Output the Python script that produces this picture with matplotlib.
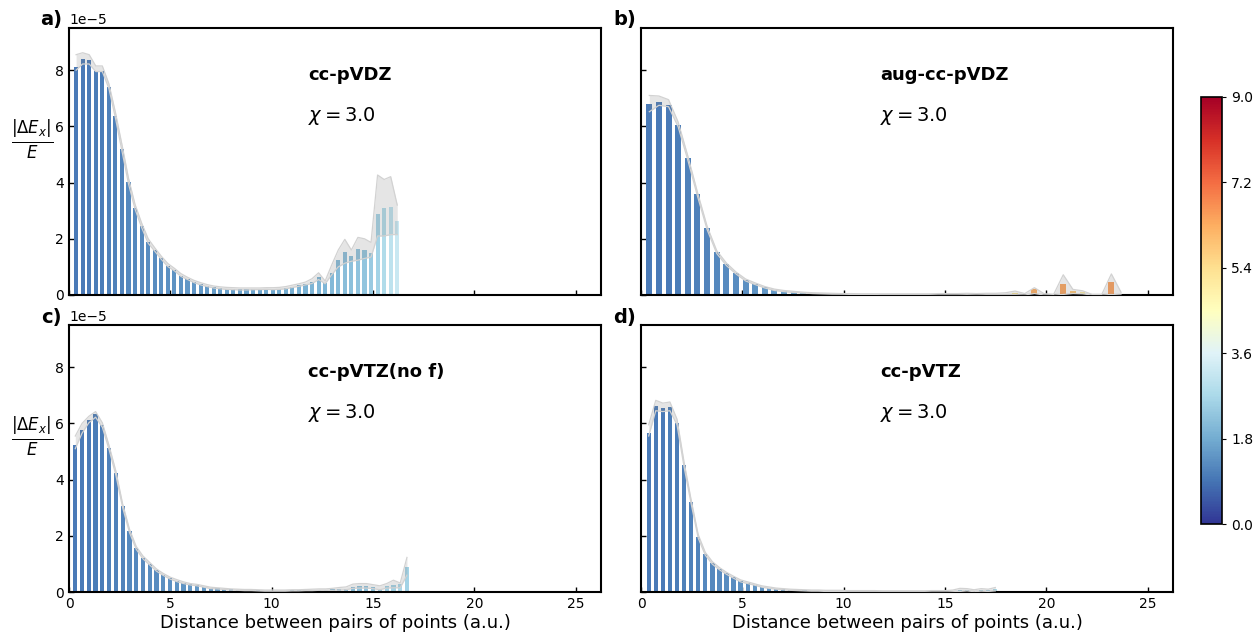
import numpy as np
import matplotlib
matplotlib.use("Agg")
import matplotlib.pyplot as plt
from matplotlib import cm, colors

# ---------------- data (values in units of 1e-5) ----------------
panel_labels = ["a)", "b)", "c)", "d)"]
basis_names = ["cc-pVDZ", "aug-cc-pVDZ", "cc-pVTZ(no f)", "cc-pVTZ"]
chi_text = r"$\chi = 3.0$"

# bin centres: first centre and spacing (a.u.) for each panel, 50 bins each
bin_first = [0.35, 0.41, 0.31, 0.38]
bin_step = [0.3234, 0.4750, 0.3340, 0.3490]
n_bins = 50

val_a = [8.12, 8.40, 8.37, 7.98, 7.98, 7.40, 6.38, 5.20, 4.02, 3.10,
         2.45, 1.88, 1.60, 1.30, 1.04, 0.89, 0.69, 0.58, 0.47, 0.39,
         0.32, 0.27, 0.25, 0.22, 0.21, 0.20, 0.20, 0.21, 0.21, 0.22,
         0.21, 0.22, 0.25, 0.30, 0.34, 0.39, 0.45, 0.65, 0.44, 0.79,
         1.24, 1.52, 1.39, 1.64, 1.60, 1.49, 2.88, 3.10, 3.14, 2.64]
hi_a = [8.55, 8.62, 8.55, 8.15, 8.15, 7.52, 6.50, 5.35, 4.15, 3.22,
        2.56, 2.00, 1.68, 1.38, 1.12, 0.95, 0.76, 0.63, 0.52, 0.44,
        0.37, 0.32, 0.29, 0.27, 0.26, 0.25, 0.25, 0.25, 0.25, 0.26,
        0.26, 0.27, 0.30, 0.35, 0.40, 0.46, 0.58, 0.79, 0.50, 1.07,
        1.60, 1.98, 1.60, 2.05, 2.00, 1.87, 4.27, 4.11, 4.21, 3.20]
lo_a = [8.00, 8.22, 8.22, 7.95, 7.95, 7.35, 6.30, 5.12, 3.95, 3.05,
        2.40, 1.84, 1.56, 1.27, 1.01, 0.86, 0.66, 0.55, 0.44, 0.36,
        0.30, 0.25, 0.22, 0.20, 0.19, 0.18, 0.18, 0.19, 0.19, 0.20,
        0.19, 0.20, 0.22, 0.27, 0.31, 0.36, 0.41, 0.55, 0.40, 0.72,
        1.00, 1.13, 1.20, 1.24, 1.30, 1.35, 2.10, 2.10, 2.15, 2.15]
col_a = [1.00, 1.00, 1.00, 1.05, 1.05, 1.10, 1.10, 1.15, 1.20, 1.20,
         1.25, 1.30, 1.30, 1.35, 1.35, 1.40, 1.40, 1.45, 1.45, 1.50,
         1.50, 1.55, 1.55, 1.60, 1.60, 1.65, 1.65, 1.70, 1.70, 1.75,
         1.75, 1.80, 1.80, 1.85, 1.90, 1.90, 1.95, 2.00, 2.00, 2.05,
         2.10, 2.15, 2.20, 2.25, 2.30, 2.40, 2.60, 2.80, 3.00, 3.20]

val_b = [6.78, 6.86, 6.77, 6.04, 4.86, 3.58, 2.38, 1.52, 1.09, 0.78,
         0.53, 0.40, 0.27, 0.18, 0.14, 0.11, 0.08, 0.06, 0.05, 0.04,
         0.04, 0.03, 0.03, 0.03, 0.02, 0.02, 0.02, 0.02, 0.02, 0.02,
         0.02, 0.02, 0.02, 0.03, 0.02, 0.03, 0.03, 0.04, 0.06, 0.03,
         0.20, 0.03, 0.00, 0.40, 0.14, 0.10, 0.00, 0.00, 0.47, 0.05]
hi_b = [7.10, 7.08, 6.95, 6.15, 4.95, 3.66, 2.45, 1.58, 1.14, 0.82,
        0.57, 0.43, 0.30, 0.21, 0.16, 0.13, 0.10, 0.08, 0.07, 0.06,
        0.05, 0.05, 0.04, 0.04, 0.04, 0.04, 0.04, 0.04, 0.04, 0.04,
        0.05, 0.05, 0.05, 0.06, 0.05, 0.06, 0.06, 0.08, 0.14, 0.05,
        0.26, 0.05, 0.02, 0.72, 0.20, 0.15, 0.02, 0.02, 0.75, 0.10]
lo_b = [6.52, 6.75, 6.70, 5.98, 4.80, 3.52, 2.33, 1.48, 1.05, 0.75,
        0.50, 0.37, 0.25, 0.16, 0.12, 0.09, 0.07, 0.05, 0.04, 0.03,
        0.03, 0.02, 0.02, 0.02, 0.01, 0.01, 0.01, 0.01, 0.01, 0.01,
        0.00, 0.00, 0.00, 0.01, 0.00, 0.01, 0.01, 0.01, 0.01, 0.00,
        0.05, 0.00, 0.00, 0.02, 0.05, 0.04, 0.00, 0.00, 0.02, 0.00]
col_b = [1.00, 1.00, 1.00, 1.05, 1.10, 1.10, 1.15, 1.20, 1.25, 1.30,
         1.35, 1.40, 1.45, 1.50, 1.55, 1.60, 1.65, 1.70, 1.75, 1.80,
         1.90, 2.00, 2.10, 2.20, 2.30, 2.40, 2.60, 2.80, 3.00, 3.20,
         3.50, 3.80, 4.10, 4.40, 4.60, 4.80, 4.90, 5.00, 5.10, 5.20,
         6.30, 5.30, 5.40, 6.40, 5.90, 5.00, 5.50, 6.00, 6.50, 8.60]

val_c = [5.24, 5.77, 6.12, 6.32, 5.94, 5.13, 4.22, 3.06, 2.17, 1.56,
         1.22, 1.00, 0.77, 0.62, 0.49, 0.40, 0.33, 0.27, 0.24, 0.19,
         0.14, 0.13, 0.11, 0.09, 0.08, 0.07, 0.07, 0.06, 0.05, 0.05,
         0.05, 0.05, 0.06, 0.06, 0.07, 0.07, 0.08, 0.08, 0.09, 0.11,
         0.12, 0.19, 0.20, 0.20, 0.17, 0.12, 0.20, 0.25, 0.30, 0.88]
hi_c = [5.55, 6.00, 6.25, 6.42, 6.02, 5.20, 4.30, 3.13, 2.24, 1.62,
        1.28, 1.05, 0.82, 0.66, 0.53, 0.44, 0.36, 0.30, 0.27, 0.22,
        0.17, 0.15, 0.13, 0.11, 0.10, 0.09, 0.09, 0.08, 0.07, 0.07,
        0.07, 0.07, 0.08, 0.08, 0.09, 0.10, 0.11, 0.11, 0.13, 0.16,
        0.18, 0.28, 0.30, 0.30, 0.26, 0.22, 0.30, 0.42, 0.32, 1.23]
lo_c = [5.10, 5.65, 6.02, 6.22, 5.86, 5.06, 4.15, 3.00, 2.12, 1.52,
        1.18, 0.96, 0.74, 0.59, 0.46, 0.37, 0.30, 0.25, 0.22, 0.17,
        0.12, 0.11, 0.09, 0.07, 0.06, 0.05, 0.05, 0.04, 0.03, 0.03,
        0.03, 0.03, 0.04, 0.04, 0.05, 0.05, 0.06, 0.06, 0.06, 0.07,
        0.08, 0.13, 0.14, 0.14, 0.12, 0.08, 0.14, 0.15, 0.15, 0.60]
col_c = [1.00, 1.00, 1.00, 1.05, 1.05, 1.10, 1.10, 1.15, 1.20, 1.20,
         1.25, 1.30, 1.30, 1.35, 1.35, 1.40, 1.40, 1.45, 1.45, 1.50,
         1.50, 1.55, 1.55, 1.60, 1.60, 1.65, 1.65, 1.70, 1.70, 1.75,
         1.75, 1.80, 1.80, 1.85, 1.90, 1.90, 1.95, 2.00, 2.00, 2.05,
         2.10, 2.15, 2.20, 2.25, 2.30, 2.40, 2.50, 2.60, 2.70, 2.60]

val_d = [5.66, 6.61, 6.53, 6.59, 6.03, 4.52, 3.20, 1.97, 1.35, 1.03,
         0.83, 0.66, 0.52, 0.39, 0.33, 0.26, 0.19, 0.15, 0.12, 0.10,
         0.08, 0.07, 0.06, 0.05, 0.05, 0.04, 0.04, 0.04, 0.03, 0.03,
         0.03, 0.03, 0.03, 0.02, 0.02, 0.02, 0.02, 0.02, 0.02, 0.02,
         0.02, 0.02, 0.02, 0.03, 0.06, 0.08, 0.04, 0.07, 0.06, 0.10]
hi_d = [5.95, 6.82, 6.72, 6.76, 6.15, 4.62, 3.28, 2.04, 1.41, 1.08,
        0.87, 0.70, 0.56, 0.43, 0.36, 0.29, 0.22, 0.18, 0.14, 0.12,
        0.10, 0.09, 0.08, 0.07, 0.07, 0.06, 0.06, 0.06, 0.05, 0.05,
        0.05, 0.05, 0.05, 0.04, 0.04, 0.04, 0.04, 0.04, 0.04, 0.04,
        0.05, 0.05, 0.05, 0.07, 0.13, 0.12, 0.08, 0.12, 0.10, 0.16]
lo_d = [5.55, 6.45, 6.42, 6.45, 5.95, 4.45, 3.14, 1.92, 1.31, 0.99,
        0.79, 0.63, 0.49, 0.36, 0.30, 0.24, 0.17, 0.13, 0.10, 0.08,
        0.06, 0.05, 0.04, 0.03, 0.03, 0.02, 0.02, 0.02, 0.01, 0.01,
        0.01, 0.01, 0.01, 0.01, 0.01, 0.01, 0.01, 0.01, 0.01, 0.01,
        0.00, 0.00, 0.00, 0.01, 0.02, 0.04, 0.01, 0.03, 0.02, 0.04]
col_d = [1.00, 1.00, 1.00, 1.05, 1.05, 1.10, 1.10, 1.15, 1.20, 1.20,
         1.25, 1.30, 1.30, 1.35, 1.35, 1.40, 1.40, 1.45, 1.45, 1.50,
         1.50, 1.55, 1.55, 1.60, 1.60, 1.65, 1.65, 1.70, 1.70, 1.75,
         1.75, 1.80, 1.80, 1.85, 1.90, 1.90, 1.95, 2.00, 2.05, 2.10,
         2.15, 2.20, 2.30, 2.40, 2.50, 2.55, 2.60, 2.65, 2.70, 2.80]

values = [val_a, val_b, val_c, val_d]
band_hi = [hi_a, hi_b, hi_c, hi_d]
band_lo = [lo_a, lo_b, lo_c, lo_d]
colour_vals = [col_a, col_b, col_c, col_d]

y_ticks = [0, 2, 4, 6, 8]
x_ticks = [0, 5, 10, 15, 20, 25]
cbar_ticks = [0.0, 1.8, 3.6, 5.4, 7.2, 9.0]
SCALE = 1e-5

# ---------------- figure ----------------
W, H = 1255, 632
fig = plt.figure(figsize=(W / 100, H / 100), dpi=100)

def frac_rect(l, t, r, b):
    return [l / W, 1 - b / H, (r - l) / W, (b - t) / H]

rects = [frac_rect(69, 28, 601, 295), frac_rect(641, 28, 1173, 295),
         frac_rect(69, 325, 601, 592), frac_rect(641, 325, 1173, 592)]

cmap = plt.get_cmap("RdYlBu_r")
norm = colors.Normalize(vmin=0, vmax=9)

axes = []
for i in range(4):
    ax = fig.add_axes(rects[i])
    axes.append(ax)
    x = bin_first[i] + bin_step[i] * np.arange(n_bins)
    v = np.array(values[i]) * SCALE
    hi = np.array(band_hi[i]) * SCALE
    lo = np.array(band_lo[i]) * SCALE
    cols = cmap(norm(np.array(colour_vals[i])))
    ax.bar(x, v, width=bin_step[i] * 0.62, color=cols, zorder=2)
    ax.fill_between(x, lo, hi, color="grey", alpha=0.2, lw=0, zorder=3)
    ax.plot(x, hi, color="#d2d2d2", lw=0.9, zorder=3)
    ax.plot(x, lo, color="#d2d2d2", lw=0.9, zorder=3)

    ax.set_xlim(0, 26.25)
    ax.set_ylim(0, 9.5e-5)
    ax.set_xticks(x_ticks)
    ax.set_yticks(np.array(y_ticks) * SCALE)
    ax.tick_params(direction="in", length=3.5, width=1.0, labelsize=10)
    for s in ax.spines.values():
        s.set_linewidth(1.5)
    ax.yaxis.offsetText.set_fontsize(10)

    if i in (0, 1):
        ax.tick_params(labelbottom=False)
    else:
        ax.set_xlabel("Distance between pairs of points (a.u.)", fontsize=13, labelpad=2)
    if i in (1, 3):
        ax.tick_params(labelleft=False)
        ax.yaxis.offsetText.set_visible(False)

    ax.text(0.449, 0.824, basis_names[i], transform=ax.transAxes,
            fontsize=13, fontweight="bold", va="center", ha="left")
    ax.text(0.449, 0.670, chi_text, transform=ax.transAxes,
            fontsize=14, va="center", ha="left")

# panel letters
letter_pos = [(62, 20), (636, 20), (62, 318), (636, 318)]
for lab, (px, py) in zip(panel_labels, letter_pos):
    fig.text(px / W, 1 - py / H, lab, fontsize=14, fontweight="bold",
             ha="right", va="center")

# y labels
for py in (140, 437):
    fig.text(32 / W, 1 - py / H, r"$\frac{|\Delta E_x|}{E}$", fontsize=17,
             ha="center", va="center")

# colorbar
cax = fig.add_axes(frac_rect(1201, 97, 1222, 524))
sm = cm.ScalarMappable(norm=norm, cmap=cmap)
cb = fig.colorbar(sm, cax=cax, ticks=cbar_ticks)
cb.ax.set_yticklabels([f"{t:.1f}" for t in cbar_ticks])
cb.ax.tick_params(labelsize=10, length=3)
cb.outline.set_linewidth(1.2)

fig.savefig("out.png", dpi=100)
